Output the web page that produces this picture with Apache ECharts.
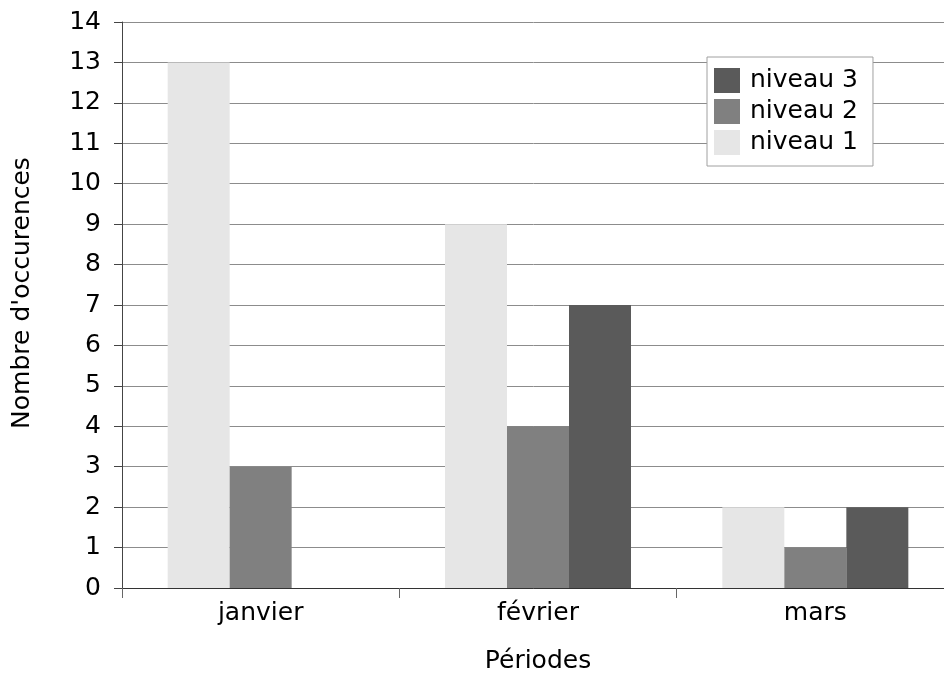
<!DOCTYPE html>
<html>
<head>
<meta charset="utf-8">
<script src="https://cdn.jsdelivr.net/npm/echarts@6/dist/echarts.min.js"></script>
<style>
  html, body { margin: 0; padding: 0; background: #ffffff; }
  #chart { width: 944px; height: 675px; }
</style>
</head>
<body>
<div id="chart"></div>
<script>
// Occurrences per month, by level
const periods = ['janvier', 'février', 'mars'];
const niveau1 = [13, 9, 2];
const niveau2 = [3, 4, 1];
const niveau3 = [0, 7, 2];
const seriesNames = ['niveau 1', 'niveau 2', 'niveau 3'];
const legendOrder = ['niveau 3', 'niveau 2', 'niveau 1'];

const FONT = 'DejaVu Sans';
const chart = echarts.init(document.getElementById('chart'), null, { renderer: 'canvas' });

function bar(name, data, color) {
  return {
    name: name,
    type: 'bar',
    data: data,
    barWidth: 62,
    barGap: '0%',
    itemStyle: { color: color },
    emphasis: { disabled: true }
  };
}

chart.setOption({
  animation: false,
  backgroundColor: '#ffffff',
  textStyle: { fontFamily: FONT },
  // the plot runs a little past the right edge of the canvas
  grid: { left: 122, top: 22, width: 832, height: 566, containLabel: false, outerBoundsMode: 'none' },
  legend: {
    data: legendOrder,
    orient: 'vertical',
    left: 707,
    top: 57,
    icon: 'rect',
    itemWidth: 26,
    itemHeight: 25,
    itemGap: 6,
    padding: [11, 15, 11, 7],
    borderColor: '#a0a0a0',
    borderWidth: 1,
    backgroundColor: '#ffffff',
    textStyle: { fontFamily: FONT, fontSize: 25, color: '#000000', padding: [0, 0, 0, 5] },
    selectedMode: false
  },
  xAxis: {
    type: 'category',
    data: periods,
    name: 'Périodes',
    nameLocation: 'middle',
    nameGap: 61,
    nameTextStyle: { fontFamily: FONT, fontSize: 25, color: '#000000' },
    axisLine: { lineStyle: { color: '#333333', width: 1 } },
    axisTick: { show: true, length: 10, lineStyle: { color: '#666666' } },
    axisLabel: { fontFamily: FONT, fontSize: 25, color: '#000000', margin: 13 },
    splitLine: { show: false }
  },
  yAxis: {
    type: 'value',
    min: 0,
    max: 14,
    interval: 1,
    name: "Nombre d'occurences",
    nameLocation: 'middle',
    nameGap: 87,
    nameRotate: 90,
    nameTextStyle: { fontFamily: FONT, fontSize: 25, color: '#000000', padding: [0, 0, 0, 24] },
    axisLine: { show: true, lineStyle: { color: '#444444', width: 1 } },
    axisTick: { show: true, length: 8, lineStyle: { color: '#444444' } },
    axisLabel: { fontFamily: FONT, fontSize: 25, color: '#000000', margin: 21 },
    splitLine: { show: true, lineStyle: { color: '#8c8c8c', width: 1 } }
  },
  series: [
    bar(seriesNames[0], niveau1, '#e6e6e6'),
    bar(seriesNames[1], niveau2, '#808080'),
    bar(seriesNames[2], niveau3, '#5a5a5a')
  ]
});
</script>
</body>
</html>
